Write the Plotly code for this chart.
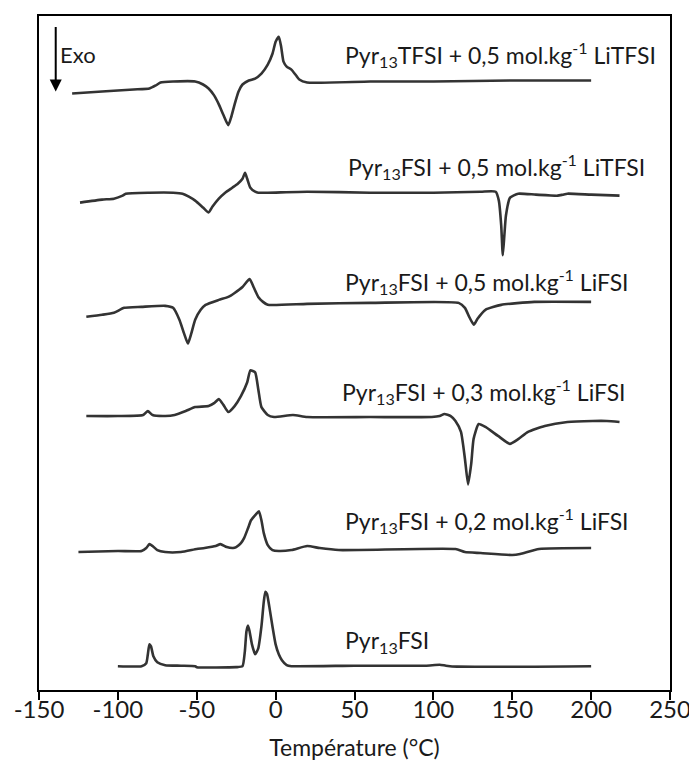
import plotly.graph_objects as go

# ---------------- data (heat flow, arbitrary units, relative to each baseline) -------------
labels = [
    "Pyr<sub>13</sub>TFSI + 0,5 mol.kg<sup>-1</sup> LiTFSI",
    "Pyr<sub>13</sub>FSI + 0,5 mol.kg<sup>-1</sup> LiTFSI",
    "Pyr<sub>13</sub>FSI + 0,5 mol.kg<sup>-1</sup> LiFSI",
    "Pyr<sub>13</sub>FSI + 0,3 mol.kg<sup>-1</sup> LiFSI",
    "Pyr<sub>13</sub>FSI + 0,2 mol.kg<sup>-1</sup> LiFSI",
    "Pyr<sub>13</sub>FSI",
]

# vertical stacking offsets of each thermogram
offsets = [613, 500, 388, 276, 140, 24]

T1 = [-129, -110, -90, -80, -76, -73, -65, -51, -46, -42.5, -39, -36, -33, -30, -28, -26, -23.5,
      -21, -17, -13, -9, -5, -2, 0, 2, 3.5, 5, 7, 10, 13, 15, 20, 60, 100, 150, 200]
P1 = [92, 90, 88, 87, 84, 81, 80, 80, 83, 87, 94, 103, 114, 124, 115, 103, 90,
      83, 79, 77, 72, 63, 52, 40, 35, 45, 60, 65, 68, 74, 78, 81, 80, 80, 79, 79]
S1 = [80 - p for p in P1]

T2 = [-124, -110, -102.5, -97, -95, -80, -65, -59, -55, -51, -46, -42.5, -40, -36, -32, -27.5,
      -24, -21, -19.4, -18, -16, -13, -11, -5, 20, 60, 100, 130, 139.5, 141.5, 143, 144, 145,
      146, 148.6, 153.8, 165, 178.8, 182, 185, 200, 218]
P2 = [202, 199, 198, 195, 193, 192, 192, 193, 196, 200, 207, 212, 206, 198, 192, 187,
      183, 178, 172, 178, 187, 191, 192, 192, 191, 192, 192, 191, 191, 200, 225, 255, 235,
      215, 197, 193, 194, 195, 194, 193, 194, 195]
S2 = [193 - p for p in P2]

T3 = [-120, -110, -102.5, -96, -85, -70, -65, -61, -58, -55.6, -53.5, -51, -47.5, -44.4, -36,
      -30, -26, -21, -16.5, -14, -11, -8, -5, 20, 60, 116, 120, 123, 125.6, 128, 133, 143, 164, 200]
P3 = [317, 315, 313, 308, 307, 306, 308, 320, 334, 344, 334, 320, 310, 305, 300,
      297, 293, 287, 279, 287, 297, 302, 305, 304, 303, 303, 308, 318, 325, 319, 310, 305, 302, 302]
S3 = [305 - p for p in P3]

T4 = [-120, -100, -84, -81, -78, -70, -64, -57, -51, -42.5, -39, -36, -33, -30, -26, -22, -18,
      -16, -13, -11, -9, -5, -1, 11, 20, 60, 99, 104, 107, 111, 114, 117.5, 120, 122, 124, 125.5,
      128.7, 133, 141, 148.5, 154, 160, 170.6, 185, 201, 210, 218]
P4 = [417, 417, 416, 412, 416, 417, 416, 412, 408, 407, 404, 400, 406, 413, 407, 397, 383,
      371, 373, 390, 408, 416, 418, 416, 418, 418, 418, 417, 415, 417, 422, 433, 460, 486, 465, 440,
      425, 428, 437, 445, 440, 433, 427, 423, 422, 422, 423]
S4 = [417 - p for p in P4]

T5 = [-125, -100, -85, -82, -80, -78, -75, -70, -60, -50, -45, -38, -35, -31, -27, -25, -22, -20,
      -17.5, -15.6, -12.5, -10.6, -9, -7.5, -5, -2, 2, 10, 20, 28, 40, 114, 120, 130, 150, 155, 167, 200]
P5 = [554, 553, 553, 550, 546, 548, 552, 554, 554, 551, 550, 548, 546, 549, 550, 549, 545, 540,
      530, 522, 516, 513, 522, 535, 547, 552, 553, 552, 548, 550, 552, 551, 554, 555, 557, 556, 551, 550]
S5 = [553 - p for p in P5]

T6 = [-100, -85, -82, -81, -80, -79, -77.5, -75, -70, -60, -51, -50, -25, -21, -19.5, -18.5, -17.5,
      -16.5, -15, -13, -11, -9, -7.5, -6.5, -5.5, -4, -2, 0, 2, 4, 7, 10, 50, 95, 104, 108, 115, 200]
S6 = [0, 0, 3, 12, 22, 20, 10, 4, 1, 0.5, 0, -1, -1, 0, 15, 35, 41,
      35, 22, 12, 18, 40, 65, 75, 73, 60, 40, 22, 12, 6, 1, 0, 0.5, 0.5, 1.5, 0.5, -0.5, 0]

temps = [T1, T2, T3, T4, T5, T6]
signals = [S1, S2, S3, S4, S5, S6]

# label anchor positions (temperature, height)
label_x = [142.5, 140, 134, 132, 134, 70.6]
label_y = [640, 527, 412, 301, 171, 49]

tick_vals = [-150, -100, -50, 0, 50, 100, 150, 200, 250]
tick_text = ["-150", "-100", "-50", "0", "50", "100", "150", "200", "250"]

# ---------------- figure ----------------
FONT = "Lato"
fig = go.Figure()
for T, S, off in zip(temps, signals, offsets):
    fig.add_trace(go.Scatter(
        x=T, y=[s + off for s in S], mode="lines",
        line=dict(color="#333333", width=2.6, shape="spline", smoothing=0.5),
        showlegend=False, hoverinfo="skip"))

for txt, lx, ly in zip(labels, label_x, label_y):
    fig.add_annotation(x=lx, y=ly, xref="x", yref="y", text=txt, showarrow=False,
                       xanchor="center", yanchor="middle",
                       font=dict(family=FONT, size=23, color="#1a1a1a"))

# Exo arrow
fig.add_annotation(x=-139.4, y=603, xref="x", yref="y", ax=0, ay=-66, axref="pixel", ayref="pixel",
                   text="", showarrow=True, arrowhead=2, arrowsize=1.2, arrowwidth=2, arrowcolor="black")
fig.add_annotation(x=-138, y=640, xref="x", yref="y", text="Exo", showarrow=False,
                   xanchor="left", yanchor="middle", font=dict(family=FONT, size=22, color="#1a1a1a"))

fig.update_layout(
    width=689, height=755,
    margin=dict(l=27, r=24, t=6, b=70),
    paper_bgcolor="white", plot_bgcolor="white",
    font=dict(family=FONT, size=23, color="#1a1a1a"),
    xaxis=dict(range=[-150, 250], tickvals=tick_vals, ticktext=tick_text,
               showline=True, linecolor="black", linewidth=2, mirror=True,
               ticks="outside", ticklen=8, tickwidth=2, tickcolor="black",
               ticklabelstandoff=-11,
               showgrid=False, zeroline=False,
               tickfont=dict(family=FONT, size=24),
               title=dict(text="Température (°C)", font=dict(family=FONT, size=23), standoff=18)),
    yaxis=dict(range=[0, 679], showline=True, linecolor="black", linewidth=2, mirror=True,
               showticklabels=False, ticks="", showgrid=False, zeroline=False),
)

fig.write_html("out.html")
